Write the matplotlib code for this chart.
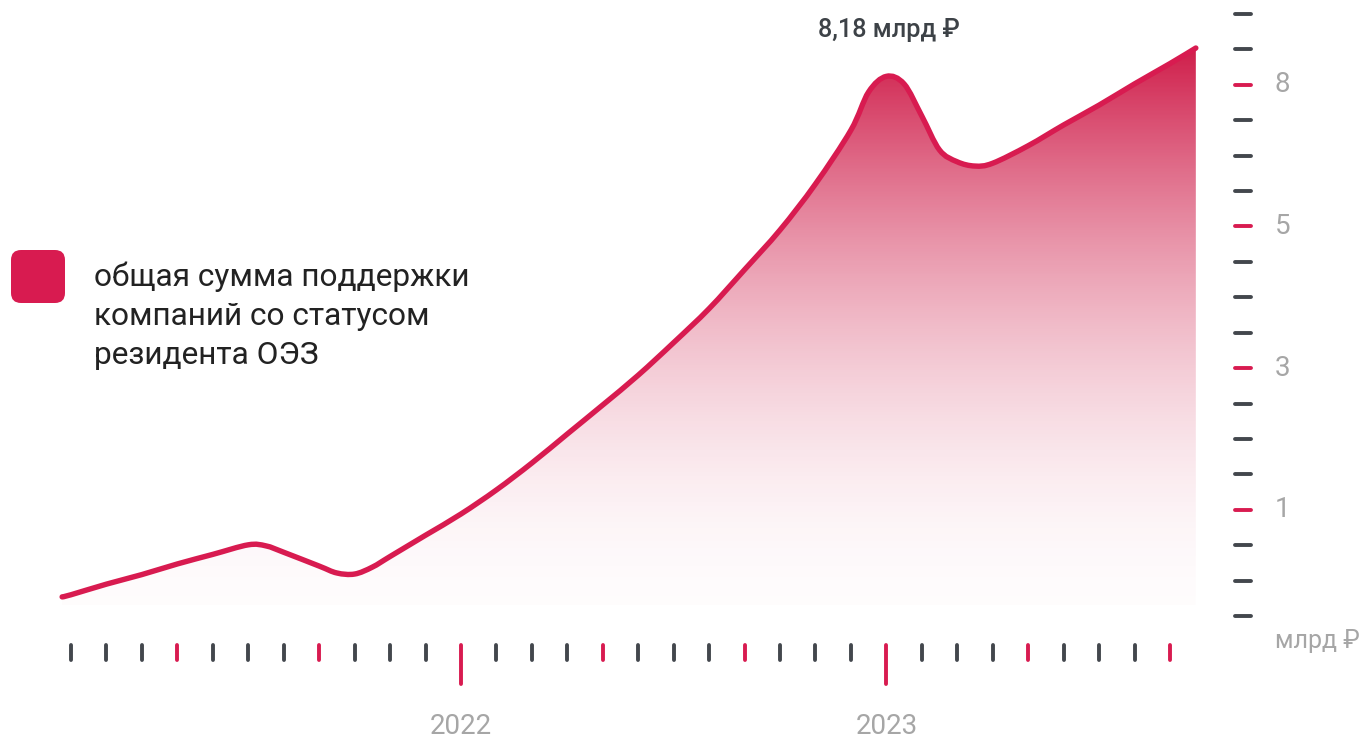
import numpy as np
import matplotlib
matplotlib.use("Agg")
import matplotlib.pyplot as plt
from matplotlib.patches import FancyBboxPatch, PathPatch
from matplotlib.path import Path
from matplotlib.transforms import IdentityTransform, blended_transform_factory

plt.rcParams['font.family'] = ['Roboto', 'DejaVu Sans']

# month index: 0 = Feb 2021, 11 = Jan 2022, 23 = Jan 2023
months = [-0.25, 0, 1, 2, 3, 4, 5, 5.5, 6, 7, 7.5, 8, 8.5, 9, 10, 11, 12, 13, 14, 15,
          16, 17, 18, 19, 20, 21, 22, 22.5, 23, 23.5, 24, 24.5, 25, 25.5, 26, 27, 28,
          29, 30, 31, 31.73]
# billions of rubles
values = [0.18, 0.20, 0.30, 0.39, 0.49, 0.58, 0.67, 0.66, 0.60, 0.47, 0.405, 0.395, 0.46,
          0.56, 0.76, 0.96, 1.28, 1.66, 2.07, 2.48, 2.90, 3.36, 3.84, 4.39, 4.95, 5.90,
          7.04, 7.85, 8.18, 8.02, 7.34, 6.62, 6.37, 6.28, 6.34, 6.71, 7.15, 7.57, 8.02,
          8.45, 8.78]
year_ticks = [11, 23]
year_labels = ['2022', '2023']
n_month_ticks = 32
peak_label = '8,18 млрд ₽'
unit_label = 'млрд ₽'
legend_lines = ['общая сумма поддержки', 'компаний со статусом', 'резидента ОЭЗ']

# the value axis is not linear: it is stretched between labelled ticks
scale_vals = [-5 / 3, 0, 1, 3, 5, 8, 11.75]
scale_pos = [-5, 0, 3, 7, 11, 15, 20]
ytick_labels = {3: '1', 7: '3', 11: '5', 15: '8'}


def forward(v):
    return np.interp(v, scale_vals, scale_pos)


def inverse(p):
    return np.interp(p, scale_pos, scale_vals)


RED = '#d81b50'
FILL = np.array([0.815, 0.11, 0.29])
DARK = '#43474d'
GREY = '#a6a6a6'
W, H = 1365, 739


def P(x, y):
    return x / W, 1 - y / H


fig = plt.figure(figsize=(W / 100, H / 100), dpi=100)
ax = fig.add_axes([0, 0, 1, 1])
ax.set_yscale('function', functions=(forward, inverse))
ax.axis('off')
ax.set_xlim(-71 / 35.45, (W - 71) / 35.45)
ax.set_ylim(inverse((616 - H) / 35.41), inverse(616 / 35.41))

# smooth curve through the data points, built in display space
pts = ax.transData.transform(np.column_stack([months, values]))
ext = np.vstack([pts[0], pts, pts[-1]])
verts = [pts[0]]
codes = [Path.MOVETO]
for i in range(len(pts) - 1):
    p0, p1, p2, p3 = ext[i], ext[i + 1], ext[i + 2], ext[i + 3]
    verts += [p1 + (p2 - p0) / 6, p2 - (p3 - p1) / 6, p2]
    codes += [Path.CURVE4] * 3
curve = Path(verts, codes)

# gradient fill under the curve
base = ax.transData.transform([[0, inverse(0.31)]])[0, 1]
area = Path(verts + [(pts[-1, 0], base), (pts[0, 0], base), pts[0]],
            codes + [Path.LINETO, Path.LINETO, Path.CLOSEPOLY])
rows = np.arange(H)
t = np.clip((605 - rows) / (605 - 47), 0, 1)
grad = np.zeros((H, 1, 4))
grad[:, 0, :3] = FILL
grad[:, 0, 3] = 0.015 + 0.985 * t ** 1.8
im = ax.imshow(grad, extent=[0, 1, 0, 1], transform=ax.transAxes, aspect='auto',
               origin='upper', interpolation='bilinear')
im.set_clip_path(area, transform=IdentityTransform())

ax.add_patch(PathPatch(curve, fill=False, edgecolor=RED, lw=3.9, capstyle='round',
                       joinstyle='round', transform=IdentityTransform(), zorder=3))

# bottom ticks (months)
bx = blended_transform_factory(ax.transData, ax.transAxes)
for k in range(n_month_ticks):
    c = RED if k % 4 == 3 else DARK
    y2 = 684 if k in year_ticks else 660
    ax.plot([k, k], [1 - 645 / H, 1 - y2 / H], transform=bx, color=c, lw=2.8,
            solid_capstyle='round')
for k, lab in zip(year_ticks, year_labels):
    ax.text(k, 1 - 727 / H, lab, transform=bx, ha='center', va='center',
            fontsize=20, color=GREY)

# right ticks (values)
by = blended_transform_factory(ax.transAxes, ax.transData)
for p in range(18):
    v = inverse(p)
    c = RED if p in ytick_labels else DARK
    ax.plot([1235 / W, 1251 / W], [v, v], transform=by, color=c, lw=2.8,
            solid_capstyle='round')
    if p in ytick_labels:
        ax.text(1275 / W, v, ytick_labels[p], transform=by, ha='left', va='center',
                fontsize=20, color=GREY)

fig.text(*P(1275, 641), unit_label, ha='left', va='center', fontsize=18, color=GREY)
fig.text(*P(889, 30), peak_label, ha='center', va='center', fontsize=18.2,
         color='#3d4247', fontweight='medium')

# legend
ax.add_patch(FancyBboxPatch((11, H - 303), 54, 53, boxstyle='round,pad=0,rounding_size=10',
                            transform=IdentityTransform(), color=RED, lw=0))
for i, line in enumerate(legend_lines):
    fig.text(*P(94, 286 + 39 * i), line, ha='left', va='baseline', fontsize=22.8,
             color='#222222')

fig.savefig('out.png', dpi=100)
